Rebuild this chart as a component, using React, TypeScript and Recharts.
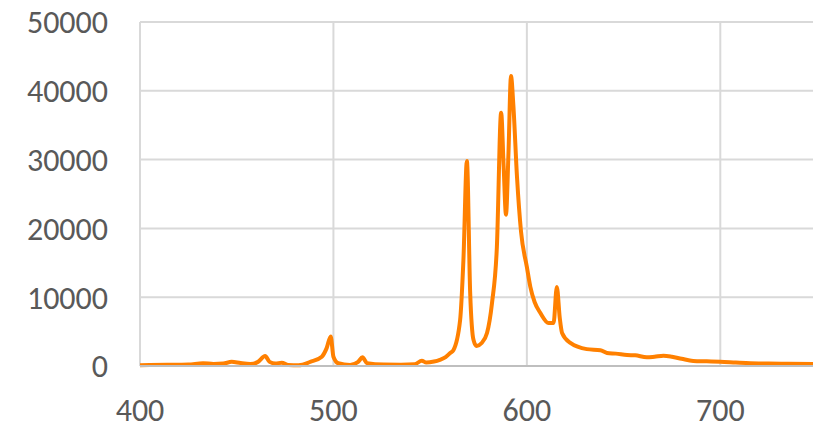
import { CartesianGrid, Line, LineChart, XAxis, YAxis } from "recharts";

// wavelength (nm) and intensity
const wavelengths = [
  400, 405, 415, 425, 432.6, 438, 443, 447.4, 452, 457, 461, 464.7, 467, 470,
  473.3, 476.6, 482, 488, 494, 496.5, 498.6, 500, 502.5, 508.6, 512.8, 515,
  517.4, 526, 535, 542, 545.7, 548, 552, 555, 558, 560.4, 562, 565.5, 567.2,
  569, 570.7, 572.4, 574, 576.5, 579.4, 582, 584.5, 586.7, 588, 589.2, 590.5,
  591.8, 593, 594.9, 597, 600, 601.8, 604, 607, 611.2, 613.8, 615.5, 617,
  618.2, 622.5, 631, 638, 641.4, 646, 651.8, 656, 662, 666, 670.6, 675, 680,
  686, 693, 700, 708, 715.6, 725, 735, 748,
];
const intensity = [
  120, 150, 170, 220, 400, 300, 350, 600, 420, 300, 600, 1450, 600, 350, 480,
  150, 120, 600, 1350, 2600, 4300, 1350, 400, 150, 600, 1260, 400, 200, 180,
  250, 770, 500, 650, 900, 1300, 1900, 2300, 6700, 15400, 29800, 10600, 3800,
  2900, 3300, 4800, 9200, 17300, 36800, 29000, 22000, 31000, 42150, 38000,
  27500, 19500, 14400, 11500, 9300, 7700, 6250, 6250, 11500, 7000, 4800, 3350,
  2450, 2300, 1900, 1800, 1600, 1550, 1260, 1350, 1500, 1350, 1050, 730, 680,
  630, 500, 390, 350, 310, 290,
];

const xTicks = [400, 500, 600, 700];
const yTicks = [0, 10000, 20000, 30000, 40000, 50000];

const data = wavelengths.map((w, i) => ({ w, v: intensity[i] }));

const tickStyle = {
  fontSize: 32,
  fill: "#595959",
  fontFamily: "Carlito, Lato, sans-serif",
};

export default function App() {
  return (
    <div style={{ position: "absolute", left: 0, top: 0, background: "#fff" }}>
      <LineChart
        width={813}
        height={429}
        data={data}
        margin={{ top: 22, right: -4, left: 0, bottom: 0 }}
      >
        <CartesianGrid stroke="#d9d9d9" strokeWidth={2} />
        <XAxis
          dataKey="w"
          type="number"
          domain={[400, 750]}
          ticks={xTicks}
          allowDataOverflow
          height={63}
          tickLine={false}
          tickSize={0}
          tickMargin={32}
          axisLine={{ stroke: "#bfbfbf", strokeWidth: 2 }}
          tick={tickStyle}
        />
        <YAxis
          type="number"
          domain={[0, 50000]}
          ticks={yTicks}
          width={140}
          tickLine={false}
          axisLine={false}
          tickSize={0}
          tickMargin={32}
          tick={tickStyle}
        />
        <Line
          type="monotone"
          dataKey="v"
          stroke="#ff8000"
          strokeWidth={4}
          dot={false}
          isAnimationActive={false}
        />
      </LineChart>
    </div>
  );
}
